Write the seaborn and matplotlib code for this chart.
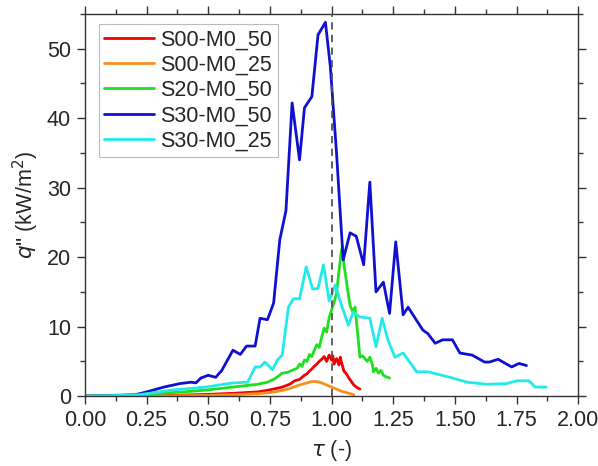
import numpy as np
import pandas as pd
import seaborn as sns
import matplotlib.pyplot as plt
from matplotlib.ticker import MultipleLocator

s00_50_x = [0, 0.2, 0.3, 0.4, 0.5, 0.6, 0.7, 0.75, 0.8, 0.83, 0.85, 0.87, 0.89, 0.9, 0.91, 0.92, 0.93,
            0.94, 0.95, 0.96, 0.97, 0.98, 0.99, 1.0, 1.005, 1.01, 1.02, 1.03, 1.035, 1.04, 1.05, 1.06,
            1.07, 1.08, 1.09, 1.1, 1.115]
s00_50_y = [0, 0.02, 0.05, 0.15, 0.25, 0.4, 0.6, 0.9, 1.3, 1.7, 2.2, 2.4, 3.0, 3.2, 3.6, 3.9, 4.3,
            4.6, 5.0, 5.3, 5.7, 5.0, 5.9, 5.2, 5.8, 4.6, 5.4, 4.5, 5.6, 4.9, 3.6, 3.2,
            2.6, 2.1, 1.6, 1.3, 1.0]

s00_25_x = [0, 0.3, 0.5, 0.6, 0.7, 0.75, 0.8, 0.84, 0.87, 0.9, 0.92, 0.94, 0.96, 0.98, 1.0, 1.02,
            1.04, 1.06, 1.08, 1.09]
s00_25_y = [0, 0.02, 0.1, 0.2, 0.35, 0.5, 0.8, 1.2, 1.6, 1.9, 2.1, 2.1, 1.9, 1.6, 1.3, 1.0,
            0.7, 0.5, 0.3, 0.2]

s20_50_x = [0, 0.1, 0.2, 0.3, 0.4, 0.5, 0.55, 0.6, 0.65, 0.7, 0.74, 0.77, 0.8, 0.82, 0.84, 0.86,
            0.87, 0.88, 0.89, 0.9, 0.91, 0.92, 0.93, 0.94, 0.95, 0.96, 0.97, 0.98, 0.99, 1.0, 1.01,
            1.02, 1.03, 1.04, 1.045, 1.05, 1.067, 1.075, 1.088, 1.095, 1.107, 1.115, 1.125, 1.135,
            1.145, 1.155, 1.165, 1.17, 1.18, 1.19, 1.2, 1.21, 1.22, 1.235]
s20_50_y = [0, 0.1, 0.25, 0.4, 0.6, 0.9, 1.1, 1.3, 1.5, 1.7, 2.0, 2.5, 3.3, 3.4, 3.7, 4.0,
            4.6, 4.3, 5.2, 5.0, 6.0, 5.7, 6.6, 7.4, 7.0, 8.5, 9.8, 9.2, 11.3, 12.4, 13.5,
            14.8, 18.0, 21.0, 21.5, 19.0, 14.8, 13.0, 12.0, 12.8, 8.5, 5.6, 5.8, 5.4,
            5.0, 5.6, 4.6, 3.5, 4.0, 3.3, 3.7, 3.0, 2.8, 2.6]

s30_50_x = [0, 0.1, 0.2, 0.25, 0.32, 0.385, 0.43, 0.45, 0.47, 0.5, 0.53, 0.555, 0.6, 0.63, 0.655,
            0.69, 0.71, 0.74, 0.765, 0.79, 0.815, 0.84, 0.87, 0.89, 0.92, 0.945, 0.975, 0.995, 1.02,
            1.047, 1.075, 1.10, 1.13, 1.155, 1.18, 1.21, 1.235, 1.26, 1.29, 1.31, 1.37, 1.39, 1.42,
            1.45, 1.49, 1.52, 1.57, 1.62, 1.64, 1.675, 1.73, 1.76, 1.79]
s30_50_y = [0, 0.05, 0.15, 0.6, 1.3, 1.8, 2.0, 1.9, 2.6, 3.0, 2.7, 3.7, 6.6, 6.0, 7.2,
            7.2, 11.2, 11.0, 13.4, 22.5, 26.7, 42.2, 34.0, 41.5, 43.1, 52.0, 53.8, 47.4, 35.0,
            19.6, 23.5, 23.0, 18.9, 30.8, 15.0, 16.4, 11.9, 22.2, 11.7, 12.8, 9.5, 9.0, 7.6,
            8.1, 8.1, 6.2, 5.9, 4.9, 4.9, 5.3, 4.2, 4.7, 4.4]

s30_25_x = [0, 0.1, 0.22, 0.36, 0.49, 0.6, 0.66, 0.69, 0.71, 0.73, 0.76, 0.78, 0.80, 0.825, 0.845,
            0.87, 0.897, 0.923, 0.945, 0.967, 0.99, 1.015, 1.04, 1.068, 1.088, 1.115, 1.155, 1.18,
            1.205, 1.228, 1.257, 1.29, 1.345, 1.39, 1.47, 1.55, 1.63, 1.71, 1.75, 1.80, 1.825, 1.87]
s30_25_y = [0, 0.05, 0.2, 0.9, 1.3, 1.9, 2.0, 4.2, 4.2, 4.9, 3.8, 5.2, 5.9, 12.8, 14.0,
            14.0, 18.6, 15.4, 15.5, 18.9, 13.7, 16.0, 13.1, 10.2, 12.1, 11.4, 11.2, 7.1,
            11.2, 8.1, 5.6, 6.2, 3.5, 3.5, 2.8, 2.0, 1.7, 1.8, 2.2, 2.2, 1.3, 1.3]

names = ["S00-M0_50", "S00-M0_25", "S20-M0_50", "S30-M0_50", "S30-M0_25"]
colors = ["#f00000", "#f7901e", "#1ee01e", "#1010d0", "#22eaea"]
xs = [s00_50_x, s00_25_x, s20_50_x, s30_50_x, s30_25_x]
ys = [s00_50_y, s00_25_y, s20_50_y, s30_50_y, s30_25_y]

frames = []
for n, x, y in zip(names, xs, ys):
    frames.append(pd.DataFrame({"tau": x, "q": y, "case": n}))
df = pd.concat(frames, ignore_index=True)

sns.set_style("ticks")
plt.rcParams['font.family'] = ['Liberation Sans', 'DejaVu Sans']

fig = plt.figure(figsize=(5.98, 4.66), dpi=100)
ax = fig.add_axes([0.142, 0.150, 0.825, 0.820])

sns.lineplot(data=df, x="tau", y="q", hue="case", hue_order=names,
             palette=dict(zip(names, colors)), sort=False, estimator=None,
             linewidth=2.0, ax=ax)

ax.axvline(1.0, color="#555555", linestyle=(0, (4, 3)), linewidth=1.3, zorder=3)

ax.set_xlim(0, 2)
ax.set_ylim(0, 55)
ax.xaxis.set_major_locator(MultipleLocator(0.25))
ax.xaxis.set_minor_locator(MultipleLocator(0.125))
ax.yaxis.set_major_locator(MultipleLocator(10))
ax.yaxis.set_minor_locator(MultipleLocator(5))
ax.xaxis.set_major_formatter(plt.FormatStrFormatter("%.2f"))

ax.tick_params(which="both", direction="out", top=True, right=True,
               labeltop=False, labelright=False, color="#333333", width=1)
ax.tick_params(which="major", length=6, labelsize=15.5, pad=4)
ax.tick_params(which="minor", length=3.5)
for sp in ax.spines.values():
    sp.set_color("#333333")
    sp.set_linewidth(1)

ax.set_xlabel(r"$\tau$ (-)", fontsize=15.5, labelpad=5)
ax.set_ylabel(r"$q$'' (kW/m$^2$)", fontsize=15.5, labelpad=4)

leg = ax.legend(loc="upper left", bbox_to_anchor=(0.02, 0.985), fontsize=15.5,
                frameon=True, fancybox=False, edgecolor="#aaaaaa",
                handlelength=2.3, handletextpad=0.3, borderpad=0.25,
                labelspacing=0.2, borderaxespad=0.2)
leg.get_frame().set_linewidth(0.8)

fig.savefig("out.png", dpi=100)
